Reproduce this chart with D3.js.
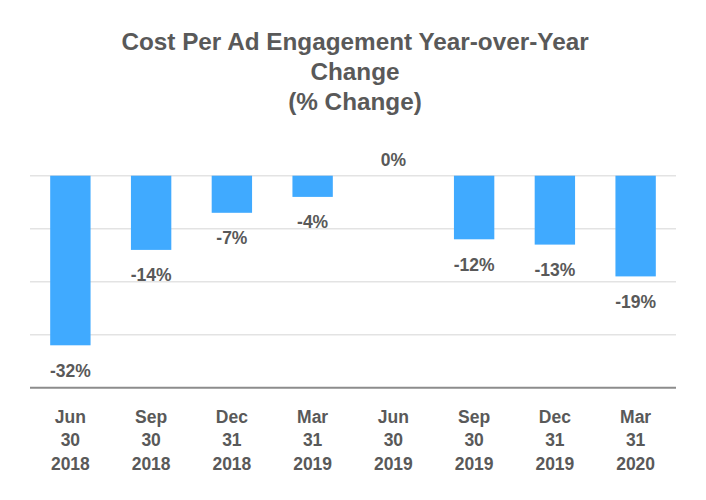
<!DOCTYPE html>
<html><head><meta charset="utf-8">
<script src="https://cdn.jsdelivr.net/npm/d3@7"></script>
<style>body{margin:0;background:#fff;font-family:"Liberation Sans",Arial,sans-serif;}</style>
</head><body><svg id="c" width="706" height="500"></svg>
<script>
const categories = [["Jun","30","2018"],["Sep","30","2018"],["Dec","31","2018"],["Mar","31","2019"],["Jun","30","2019"],["Sep","30","2019"],["Dec","31","2019"],["Mar","31","2020"]];
const values = [-32,-14,-7,-4,0,-12,-13,-19];
const gridTicks = [0,-10,-20,-30];
const titleLines = ["Cost Per Ad Engagement Year-over-Year","Change","(% Change)"];

(function(){
const svg = d3.select("#c");
const pL = 30, pR = 676, pT = 175.7, pB = 387.7;
const x = d3.scaleBand().domain(d3.range(values.length)).range([pL,pR]).paddingInner(0.5).paddingOuter(0.25);
const y = d3.scaleLinear().domain([0,-40]).range([pT,pB]);
const txt = "#595959";

svg.append("g").selectAll("text").data(titleLines).join("text")
  .attr("x",355).attr("y",(d,i)=>50+i*30).attr("text-anchor","middle")
  .attr("font-size",24.3).attr("font-weight","bold").attr("fill",txt).text(d=>d);

svg.append("g").selectAll("line").data(gridTicks).join("line")
  .attr("x1",pL).attr("x2",pR).attr("y1",d=>y(d)).attr("y2",d=>y(d))
  .attr("stroke","#e3e3e3").attr("stroke-width",1.5);

svg.append("g").selectAll("rect").data(values).join("rect")
  .attr("x",(d,i)=>x(i)).attr("width",x.bandwidth())
  .attr("y",y(0)).attr("height",d=>y(d)-y(0)).attr("fill","#40AAFF");

svg.append("line").attr("x1",pL).attr("x2",pR).attr("y1",pB).attr("y2",pB)
  .attr("stroke","#8c8c8c").attr("stroke-width",2);

svg.append("g").selectAll("text").data(values).join("text")
  .attr("x",(d,i)=>x(i)+x.bandwidth()/2)
  .attr("y",d=> d<0 ? y(d)+31.5 : y(0)-10)
  .attr("text-anchor","middle").attr("font-size",17.5).attr("font-weight","bold").attr("fill",txt)
  .text(d=>d+"%");

const xl = svg.append("g").selectAll("text").data(categories).join("text")
  .attr("text-anchor","middle").attr("font-size",17.5).attr("font-weight","bold").attr("fill",txt);
xl.each(function(d,i){
  const t = d3.select(this);
  d.forEach((s,j)=>t.append("tspan").attr("x",x(i)+x.bandwidth()/2).attr("y",422.5+j*23.5).text(s));
});
})();
</script></body></html>
